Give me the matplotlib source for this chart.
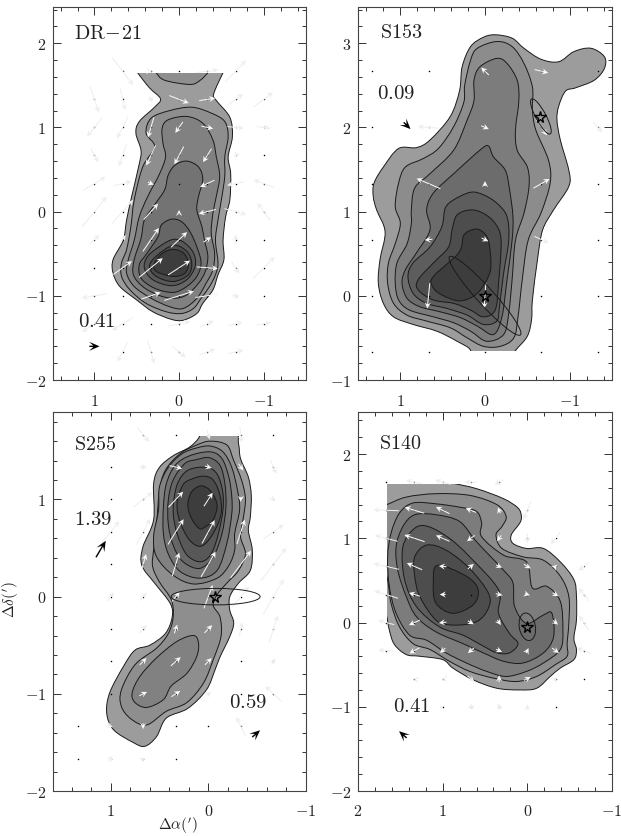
import numpy as np
import matplotlib
matplotlib.use('Agg')
import matplotlib.pyplot as plt
from matplotlib.path import Path
from matplotlib.patches import PathPatch, Ellipse, Rectangle
from matplotlib.ticker import MultipleLocator

plt.rcParams['mathtext.fontset'] = 'cm'
plt.rcParams['font.family'] = 'DejaVu Serif'

# ---------- DR-21 contours, outer to inner
dr21_levels = [
    [(.52,1.72),(.49,1.65),(.35,1.47),(.22,1.34),(.29,1.24),(.47,1.07),(.51,.93),(.45,.73),(.47,.57),(.56,.18),(.62,-.10),(.66,-.34),(.78,-.57),(.78,-.73),(.70,-.89),(.50,-1.05),(.31,-1.19),(.09,-1.28),(-.05,-1.29),(-.21,-1.21),(-.28,-1.09),(-.40,-.93),(-.46,-.75),(-.53,-.57),(-.52,-.34),(-.55,-.06),(-.60,.14),(-.61,.45),(-.58,.65),(-.63,.89),(-.60,1.12),(-.44,1.32),(-.41,1.40),(-.52,1.65),(-.56,1.72)],
    [(.30,1.72),(.27,1.65),(.17,1.56),(-.13,1.51),(-.25,1.56),(-.34,1.65),(-.38,1.72)],
    [(-.15,1.24),(.11,1.20),(.33,1.11),(.39,.93),(.29,.77),(.43,.53),(.53,.14),(.57,-.18),(.62,-.45),(.68,-.61),(.68,-.77),(.58,-.93),(.39,-1.09),(.15,-1.19),(-.03,-1.21),(-.17,-1.15),(-.26,-1.03),(-.36,-.89),(-.43,-.75),(-.46,-.61),(-.43,-.34),(-.46,-.10),(-.50,.14),(-.54,.42),(-.54,.65),(-.58,.89),(-.54,1.07),(-.38,1.17)],
    [(-.09,1.13),(.13,1.09),(.20,.99),(.19,.81),(.16,.65),(.23,.45),(.37,.18),(.47,-.06),(.53,-.34),(.60,-.57),(.62,-.73),(.53,-.89),(.33,-1.03),(.11,-1.13),(-.05,-1.15),(-.21,-1.03),(-.32,-.85),(-.40,-.69),(-.42,-.49),(-.38,-.26),(-.40,-.02),(-.44,.18),(-.48,.42),(-.44,.65),(-.40,.85),(-.28,1.05)],
    [(-.09,.60),(.05,.55),(.13,.43),(.17,.26),(.29,.08),(.41,-.10),(.45,-.32),(.53,-.57),(.54,-.75),(.43,-.89),(.25,-.99),(.07,-1.03),(-.09,-.99),(-.23,-.85),(-.31,-.71),(-.34,-.53),(-.30,-.34),(-.27,-.18),(-.21,.02),(-.23,.18),(-.28,.38),(-.23,.53)],
    [(.09,-.09),(.21,-.16),(.25,-.30),(.39,-.51),(.47,-.63),(.45,-.79),(.29,-.91),(.07,-.96),(-.09,-.89),(-.21,-.77),(-.26,-.61),(-.21,-.42),(-.13,-.24),(-.03,-.12)],
    [(.07,-.33),(.21,-.40),(.37,-.53),(.41,-.67),(.31,-.81),(.09,-.88),(-.09,-.81),(-.19,-.65),(-.17,-.49),(-.05,-.36)],
    [(.07,-.40),(.27,-.53),(.35,-.65),(.27,-.77),(.07,-.83),(-.11,-.75),(-.15,-.61),(-.09,-.47)],
    [(.07,-.45),(.19,-.49),(.29,-.61),(.27,-.71),(.07,-.77),(-.07,-.73),(-.11,-.61),(-.05,-.49)],
]
dr21_shade = [0, 1, 1, 2, 3, 4, 5, 6, 7]

# ---------- S153 contours
s153_levels = [
    [(-.12,3.10),(-.32,3.06),(-.46,2.94),(-.66,2.81),(-.87,2.78),(-1.05,2.90),(-1.25,2.94),(-1.41,2.84),(-1.41,2.70),(-1.29,2.56),(-1.07,2.47),(-.95,2.43),(-.87,2.25),(-.85,2.09),(-.89,1.85),(-.99,1.49),(-.99,1.30),(-.81,1.02),(-.68,.78),(-.62,.43),(-.56,-.05),(-.55,-.28),(-.50,-.48),(-.36,-.65),(-.26,-.80),(.25,-.80),(.17,-.65),(.33,-.54),(.57,-.42),(.85,-.34),(1.08,-.25),(1.20,-.09),(1.26,.15),(1.24,.43),(1.18,.76),(1.28,1.02),(1.32,1.18),(1.31,1.34),(1.20,1.53),(1.02,1.75),(.81,1.76),(.65,1.85),(.41,2.13),(.30,2.44),(.27,2.72),(.17,2.96),(.02,3.07)],
    [(-.14,3.02),(-.32,2.96),(-.46,2.76),(-.56,2.48),(-.56,2.21),(-.60,1.97),(-.75,1.61),(-.77,1.34),(-.66,.98),(-.51,.66),(-.44,.19),(-.39,-.25),(-.34,-.50),(-.18,-.60),(.02,-.60),(.21,-.50),(.41,-.38),(.69,-.30),(.92,-.23),(1.08,-.09),(1.15,.15),(1.14,.39),(1.06,.62),(1.00,.86),(1.06,1.06),(1.02,1.34),(.94,1.53),(.73,1.63),(.55,1.75),(.37,2.01),(.25,2.30),(.24,2.50),(.17,2.80),(.09,2.94)],
    [(-.14,2.82),(-.26,2.76),(-.38,2.56),(-.40,2.32),(-.36,1.97),(-.38,1.73),(-.50,1.53),(-.52,1.30),(-.46,.98),(-.36,.66),(-.32,.19),(-.28,-.21),(-.22,-.46),(-.02,-.54),(.17,-.42),(.37,-.32),(.61,-.25),(.89,-.17),(1.02,-.05),(1.06,.15),(1.04,.39),(.92,.62),(.87,.86),(.87,1.02),(.83,1.28),(.65,1.45),(.37,1.73),(.21,2.09),(.13,2.32),(.13,2.56),(.06,2.72)],
    [(-.04,1.78),(-.10,1.65),(-.24,1.49),(-.29,1.26),(-.33,.94),(-.32,.66),(-.26,.19),(-.20,-.25),(-.10,-.46),(.09,-.36),(.29,-.26),(.53,-.19),(.77,-.13),(.92,-.03),(.98,.15),(.94,.31),(.81,.51),(.65,.78),(.69,1.02),(.61,1.22),(.37,1.45),(.06,1.73)],
    [(.17,1.23),(.37,1.14),(.47,1.04),(.51,.82),(.65,.58),(.85,.39),(.91,.23),(.85,.03),(.69,-.09),(.45,-.15),(.21,-.23),(.02,-.34),(-.14,-.30),(-.17,-.13),(-.22,.27),(-.28,.66),(-.26,.94),(-.14,1.10),(.02,1.20)],
    [(.17,1.02),(.33,.96),(.39,.78),(.43,.58),(.61,.39),(.79,.19),(.79,.07),(.61,-.05),(.37,-.09),(.17,-.17),(.02,-.25),(-.12,-.17),(-.16,.15),(-.19,.66),(-.12,.86),(.02,.98)],
    [(.13,.79),(.25,.72),(.31,.51),(.61,.23),(.62,.11),(.51,.01),(.29,-.06),(.09,.03),(-.04,.23),(-.07,.39),(-.04,.66),(.04,.77)],
]
s153_shade = [0, 1, 2, 3, 4, 5, 6]

# ---------- S255 contours
s255_levels = [
    [(-.26,1.74),(-.31,1.57),(-.33,1.42),(-.41,1.23),(-.44,1.04),(-.43,.82),(-.41,.68),(-.45,.48),(-.43,.27),(-.31,.14),(-.22,0),(-.22,-.14),(-.26,-.27),(-.22,-.41),(-.12,-.62),(-.07,-.75),(.02,-.96),(.21,-1.15),(.43,-1.25),(.53,-1.44),(.65,-1.54),(.77,-1.50),(.97,-1.37),(1.04,-1.20),(1.01,-.99),(.87,-.72),(.75,-.55),(.60,-.50),(.44,-.38),(.37,-.21),(.39,-.07),(.55,.14),(.68,.32),(.67,.51),(.56,.79),(.56,1.16),(.50,1.33),(.36,1.45),(.19,1.54),(.09,1.65),(.12,1.74)],
    [(-.02,1.60),(-.19,1.56),(-.26,1.40),(-.34,1.20),(-.38,1.01),(-.36,.82),(-.33,.62),(-.38,.44),(-.31,.27),(-.19,.14),(-.09,.02),(-.05,-.09),(-.12,-.21),(-.13,-.41),(-.05,-.65),(.05,-.89),(.22,-1.09),(.43,-1.18),(.63,-1.32),(.79,-1.26),(.89,-1.13),(.89,-.96),(.75,-.70),(.53,-.53),(.41,-.38),(.36,-.21),(.38,-.03),(.50,.15),(.57,.31),(.56,.48),(.53,.75),(.50,1.09),(.44,1.30),(.29,1.47),(.12,1.56)],
    [(.15,-.40),(.10,-.48),(.12,-.62),(.22,-.79),(.38,-.92),(.46,-1.06),(.63,-1.14),(.75,-1.09),(.78,-.99),(.70,-.82),(.53,-.63),(.32,-.46)],
    [(-.02,1.55),(-.15,1.49),(-.24,1.33),(-.30,1.09),(-.32,.89),(-.27,.65),(-.27,.48),(-.21,.32),(-.09,.19),(.15,.13),(.36,.22),(.53,.41),(.56,.62),(.51,.89),(.50,1.13),(.41,1.33),(.27,1.47),(.12,1.53)],
    [(-.02,1.49),(-.14,1.42),(-.21,1.23),(-.24,1.03),(-.24,.85),(-.19,.55),(-.09,.27),(.09,.19),(.29,.26),(.41,.44),(.46,.65),(.46,.92),(.43,1.16),(.34,1.35),(.19,1.45)],
    [(-.01,1.43),(-.12,1.35),(-.17,1.16),(-.18,.92),(-.14,.65),(-.05,.41),(.09,.29),(.26,.36),(.36,.53),(.41,.75),(.41,.99),(.36,1.20),(.24,1.37),(.12,1.41)],
    [(.02,1.33),(-.09,1.26),(-.15,1.06),(-.14,.82),(-.05,.48),(.07,.36),(.22,.43),(.32,.65),(.36,.89),(.32,1.15),(.21,1.30)],
    [(.05,1.24),(-.05,1.20),(-.12,1.04),(-.13,.85),(-.05,.65),(.07,.52),(.19,.58),(.29,.77),(.32,.96),(.26,1.15),(.17,1.21)],
    [(.07,1.14),(-.03,1.08),(-.09,.94),(-.05,.79),(.03,.72),(.09,.70),(.17,.80),(.21,.94),(.17,1.08)],
]
s255_shade = [0, 1, 2, 2, 3, 4, 5, 6, 7]

# ---------- S140 contours
s140_levels = [
    [(1.79,1.77),(1.27,1.77),(.94,1.67),(.60,1.59),(.28,1.47),(.11,1.36),(.07,1.26),(.09,1.18),(.19,1.04),(.17,.94),(.01,.88),(-.19,.88),(-.39,.72),(-.55,.51),(-.58,.31),(-.58,.03),(-.55,-.19),(-.58,-.32),(-.55,-.44),(-.39,-.54),(-.27,-.64),(-.11,-.78),(.09,-.80),(.36,-.78),(.64,-.68),(.88,-.54),(1.00,-.44),(1.27,-.40),(1.43,-.38),(1.57,-.26),(1.63,-.09),(1.67,.11),(1.79,.51)],
    [(1.79,1.36),(1.66,1.40),(1.43,1.49),(1.08,1.53),(.68,1.51),(.36,1.40),(.25,1.26),(.30,1.14),(.37,1.04),(.30,.88),(.05,.78),(-.19,.74),(-.39,.55),(-.49,.31),(-.49,-.01),(-.47,-.25),(-.47,-.40),(-.33,-.50),(-.11,-.64),(.13,-.70),(.40,-.66),(.68,-.58),(.92,-.46),(1.15,-.32),(1.35,-.25),(1.51,-.05),(1.61,.23),(1.66,.55),(1.79,.90)],
    [(1.35,1.42),(1.08,1.41),(.80,1.37),(.60,1.32),(.54,1.18),(.54,1.02),(.28,.80),(.01,.72),(-.06,.41),(-.23,.43),(-.39,.25),(-.42,-.09),(-.39,-.32),(-.19,-.48),(.01,-.58),(.25,-.64),(.48,-.58),(.72,-.48),(.96,-.36),(1.19,-.21),(1.39,-.15),(1.55,.11),(1.63,.43),(1.65,.78),(1.61,1.06),(1.51,1.30)],
    [(1.33,1.28),(1.08,1.28),(.80,1.20),(.60,.96),(.28,.62),(.17,.47),(.15,.19),(.01,-.01),(-.19,.09),(-.29,.11),(-.31,-.17),(-.19,-.36),(.05,-.48),(.28,-.46),(.52,-.36),(.76,-.25),(1.08,-.11),(1.31,.07),(1.43,.31),(1.53,.62),(1.55,.90),(1.47,1.14)],
    [(1.33,1.12),(1.17,1.14),(.92,1.00),(.68,.78),(.34,.39),(.34,.11),(.21,-.13),(.11,-.25),(.21,-.36),(.36,-.36),(.52,-.28),(.76,-.15),(1.04,-.05),(1.31,.19),(1.45,.51),(1.47,.90)],
    [(1.33,.78),(1.19,.92),(.96,.86),(.68,.64),(.46,.35),(.46,.17),(.60,.01),(.88,-.03),(1.08,.03),(1.27,.31),(1.33,.55)],
    [(1.06,.68),(.72,.55),(.58,.39),(.64,.21),(.88,.11),(1.08,.23),(1.11,.47)],
]
s140_shade = [0, 1, 2, 3, 4, 5, 6]

# ---------- polarization vectors, row by row (0, 0 = only the grid dot)
dr21_x = [.667,.333,0,-.333,-.667,
          1,.667,.333,0,-.333,-.667,-1,
          1,.667,.333,0,-.333,-.667,-1,
          1,.667,.333,0,-.333,-.667,-1,
          1,.667,.333,0,-.333,-.667,-1,
          1,.667,.333,0,-.333,-.667,-1,
          1,.667,.333,0,-.333,-.667,-1,
          1,.667,.333,0,-.333,-.667,-1,
          1,.667,.333,0,-.333,-.667,-1,
          1,.667,.333,0,-.333,-.667,-1,
          .667,.333,0,-.333,-.667]
dr21_y = [1.667]*5 + [1.333]*7 + [1]*7 + [.667]*7 + [.333]*7 + [0]*7 + [-.333]*7 + [-.667]*7 + [-1]*7 + [-1.333]*7 + [-1.667]*5
dr21_u = [-.25,-.03,0,-.26,-.25,
          -.10,-.06,-.03,-.23,-.19,-.18,-.22,
          .18,.13,.07,.09,-.14,-.19,-.16,
          -.09,.09,.11,.11,.10,.03,0,
          -.26,-.21,-.07,0,.17,.20,.24,
          -.29,-.25,-.17,0,.20,-.26,.15,
          -.12,-.07,-.19,-.19,-.09,-.02,0,
          0,-.22,-.28,-.26,-.25,-.09,-.26,
          .30,0,-.23,-.35,-.28,-.09,0,
          .30,.25,0,-.26,-.16,-.17,-.17,
          .12,-.08,-.16,-.19,-.19]
dr21_v = [-.33,0,0,.03,.26,
          -.31,-.26,-.08,-.09,.03,.13,.17,
          -.22,-.26,-.24,-.13,-.03,-.02,-.02,
          -.17,-.26,-.24,-.21,-.16,-.04,0,
          .16,.05,-.03,0,-.08,-.04,.09,
          .36,.28,.19,.04,-.05,-.07,.20,
          .11,.11,.28,.18,.06,.12,0,
          0,.16,.23,.17,-.02,-.14,.26,
          -.05,0,.08,.11,.04,0,0,
          -.19,-.15,0,.06,.07,.04,.03,
          -.23,-.28,-.13,.07,.04]

s153_x = [1.333,.667,0,-.667,-1.333]*5 + [1.333,.667,0,-.667,-1.333]
s153_y = [2.667]*5 + [2]*5 + [1.333]*5 + [.667]*5 + [0]*5 + [-.667]*5
s153_u = [0,0,.09,-.16,0,
          0,.25,-.09,-.13,-.11,
          0,.28,0,-.19,0,
          0,.09,-.08,-.17,0,
          0,.03,.02,0,0,
          0,0,0,0,0]
s153_v = [0,0,.09,-.04,0,
          0,.02,-.04,-.19,-.12,
          0,.12,.06,.11,0,
          0,-.01,-.04,-.08,0,
          0,-.30,-.30,0,0,
          0,0,0,0,0]

s255_x = [.667,.333,0,-.333,-.667,
          1,.667,.333,0,-.333,-.667,
          1,.667,.333,0,-.333,-.667,
          1,.667,.333,0,-.333,-.667,
          1,.667,.333,0,-.333,-.667,
          1,.667,.333,0,-.333,-.667,
          1,.667,.333,0,-.333,-.667,
          1,.667,.333,0,-.333,-.667,
          1,.667,.333,0,-.333,-.667,
          1.333,1,.667,.333,0,-.333,
          1.333,1,.667,.333]
s255_y = [1.667]*5 + [1.333]*6 + [1]*6 + [.667]*6 + [.333]*6 + [0]*6 + [-.333]*6 + [-.667]*6 + [-1]*6 + [-1.333]*6 + [-1.667]*4
s255_u = [-.12,0,-.03,-.02,0,
          0,-.08,-.13,-.07,-.05,-.06,
          0,-.19,-.15,-.09,0,-.03,
          -.18,-.14,-.16,-.13,-.08,-.21,
          0,-.06,-.07,-.15,-.21,-.26,
          -.07,-.07,-.08,-.09,-.17,-.21,
          0,-.08,-.03,-.08,-.03,-.09,
          0,-.07,-.10,-.07,0,-.04,
          0,-.08,-.09,-.06,0,.17,
          0,-.05,0,0,0,.09,
          0,-.04,-.04,0]
s255_v = [-.15,0,-.10,-.16,0,
          0,-.01,-.03,-.02,-.07,-.14,
          0,.15,.16,.14,-.05,-.03,
          .22,.27,.26,.24,.25,.15,
          0,.21,.24,.26,.28,.34,
          .09,.08,.10,.24,.21,.36,
          0,.08,.09,.08,.14,.28,
          0,.07,.09,.07,0,.07,
          0,.04,.06,.04,0,.16,
          0,-.02,-.06,0,0,.19,
          0,.06,.03,0]

s140_x = [1.667,1.333,1,.667,.333,
          1.667,1.333,1,.667,.333,0,
          1.667,1.333,1,.667,.333,0,-.333,
          1.667,1.333,1,.667,.333,0,-.333,-.667,
          1.667,1.333,1,.667,.333,0,-.333,-.667,
          1.667,1.333,1,.667,.333,0,-.333,-.667,
          1.667,1.333,1,.667,.333,0,-.333,-.667,
          1.333,1,.667,.333,0,-.333,-.667,
          1,.667,.333,0,-.333]
s140_y = [1.667]*5 + [1.333]*6 + [1]*7 + [.667]*8 + [.333]*8 + [0]*8 + [-.333]*8 + [-.667]*7 + [-1]*5
s140_u = [0,.20,.18,.14,.11,
          .30,.23,.16,.12,.03,.09,
          .27,.24,.16,.09,.05,0,.11,
          .30,.18,.09,-.07,-.07,-.08,-.04,.13,
          .28,.13,.07,0,-.08,-.06,-.07,.12,
          .19,.13,.09,-.07,-.04,0,-.06,.11,
          .19,.12,.06,.07,-.07,-.03,-.08,.17,
          .03,.03,-.08,0,-.08,-.05,0,
          -.02,.08,.03,0,0]
s140_v = [0,.04,.05,0,-.06,
          .01,.07,.08,.05,.07,-.22,
          .07,.08,.07,-.07,-.07,-.12,-.14,
          .07,.08,.01,.06,-.03,-.05,.04,-.10,
          .09,.04,0,0,-.02,-.02,-.04,.15,
          .05,-.06,-.01,-.04,-.06,0,-.05,.17,
          .01,-.07,-.06,-.06,-.03,.06,-.06,.06,
          .01,0,-.07,.08,.04,.04,0,
          0,-.03,.08,.06,0]

# ---------- key arrows: x, y, u, v
dr21_key = (1.0, -1.60, -.12, 0)
s153_key = (.92, 2.02, -.08, -.08)
s255_key = (1.10, .49, -.10, .17)
s255_key2 = (-.49, -1.41, -.08, .07)
s140_key = (1.47, -1.33, .09, .08)


def smooth_path(pts):
    # closed catmull-rom written as bezier segments
    p = np.array(pts, dtype=float)
    n = len(p)
    verts = [p[0]]
    codes = [Path.MOVETO]
    for i in range(n):
        p0, p1, p2, p3 = p[i-1], p[i], p[(i+1) % n], p[(i+2) % n]
        verts += [p1 + (p2-p0)/6.0, p2 - (p3-p1)/6.0, p2]
        codes += [Path.CURVE4]*3
    return Path(np.array(verts), codes)


def panel(box, xlim, ylim, yt, xt, levels, shade, nshade, clip, x, y, u, v, keys, label, lab_pos):
    left, right, top, bottom = box
    ax = fig.add_axes([left/621.0, 1-bottom/836.0, (right-left)/621.0, (bottom-top)/836.0])
    ax.set_xlim(*xlim)
    ax.set_ylim(*ylim)
    greys = np.linspace(0.61, 0.24, nshade)
    rect = None
    if clip is not None:
        rect = Rectangle((clip[0], clip[2]), clip[1]-clip[0], clip[3]-clip[2], transform=ax.transData)
    for lev, s in zip(levels, shade):
        p = PathPatch(smooth_path(lev), facecolor=str(greys[s]), edgecolor='#1a1a1a', lw=0.7, zorder=2)
        ax.add_patch(p)
        if rect is not None:
            p.set_clip_path(rect)
    x = np.array(x); y = np.array(y); u = np.array(u, dtype=float); v = np.array(v, dtype=float)
    ax.scatter(x, y, s=1.2, c='k', linewidths=0, zorder=3)
    inside = Path(levels[0]).contains_points(np.c_[x, y])
    if clip is not None:
        inside &= (x <= clip[1]) & (y <= clip[3]) & (y >= clip[2])
    cols = np.where(inside, '#f8f8f8', '#eeeeee')
    m = (u != 0) | (v != 0)
    ax.quiver(x[m], y[m], u[m], v[m], color=list(cols[m]), angles='xy', scale_units='xy', scale=1,
              pivot='mid', width=0.004, headwidth=6, headlength=6, headaxislength=4.2,
              minshaft=0.4, minlength=0.2, zorder=4)
    for k in keys:
        ax.quiver(k[0], k[1], k[2], k[3], color='k', angles='xy', scale_units='xy', scale=1,
                  pivot='mid', width=0.0055, headwidth=6.5, headlength=7.5, headaxislength=4.5,
                  minshaft=0.3, zorder=5)
    ax.set_xticks(xt)
    ax.set_yticks(yt)
    ax.set_xticklabels(['$%d$' % t for t in xt])
    ax.set_yticklabels(['$%d$' % t for t in yt])
    ax.xaxis.set_minor_locator(MultipleLocator(0.2))
    ax.yaxis.set_minor_locator(MultipleLocator(0.2))
    ax.tick_params(axis='both', which='major', direction='in', top=True, right=True, length=5.5, width=0.7,
                   color='#333333', labelsize=11.5, labelcolor='#222222')
    ax.tick_params(axis='both', which='minor', direction='in', top=True, right=True, length=3, width=0.7,
                   color='#333333')
    ax.tick_params(axis='x', which='major', pad=9)
    ax.tick_params(axis='y', which='major', pad=5)
    for sp in ax.spines.values():
        sp.set_linewidth(0.8)
        sp.set_color('#444444')
        sp.set_zorder(10)
    ax.text(lab_pos[0], lab_pos[1], label, fontsize=14.5, va='center', ha='left', color='#222222', zorder=6)
    return ax


fig = plt.figure(figsize=(6.21, 8.36), dpi=100)

ax1 = panel((53, 306, 7, 380), (1.49, -1.5), (-2, 2.43), [-2, -1, 0, 1, 2], [1, 0, -1],
            dr21_levels, dr21_shade, 8, (-3, 3, -3, 1.65), dr21_x, dr21_y, dr21_u, dr21_v,
            [dr21_key], r'$\mathrm{DR\!-\!21}$', (1.24, 2.11))
ax1.text(1.19, -1.30, r'$0.41$', fontsize=15, va='center', color='#222222', zorder=6)

ax2 = panel((358, 612, 7, 380), (1.5, -1.5), (-1, 3.43), [-1, 0, 1, 2, 3], [1, 0, -1],
            s153_levels, s153_shade, 7, (-3, 3, -.65, 4), s153_x, s153_y, s153_u, s153_v,
            [s153_key], r'$\mathrm{S153}$', (1.24, 3.13))
ax2.text(1.28, 2.40, r'$0.09$', fontsize=15, va='center', color='#222222', zorder=6)
ax2.add_patch(Ellipse((0, 0), 1.25, 0.2, angle=48, fill=False, ec='#1a1a1a', lw=0.7, zorder=5))
ax2.add_patch(Ellipse((-.66, 2.13), 0.47, 0.12, angle=62, fill=False, ec='#1a1a1a', lw=0.7, zorder=5))
ax2.plot([0, -.65], [0, 2.12], ls='none', marker='*', ms=8.5, mfc='none', mec='k', mew=1.0, zorder=6)

ax3 = panel((53, 306, 412, 791), (1.59, -1.0), (-2, 1.9), [-2, -1, 0, 1], [1, 0, -1],
            s255_levels, s255_shade, 8, (-3, 3, -3, 1.65), s255_x, s255_y, s255_u, s255_v,
            [s255_key, s255_key2], r'$\mathrm{S255}$', (1.38, 1.57))
ax3.text(1.38, .79, r'$1.39$', fontsize=15, va='center', color='#222222', zorder=6)
ax3.text(-.215, -1.09, r'$0.59$', fontsize=15, va='center', color='#222222', zorder=6)
ax3.add_patch(Ellipse((-.075, 0), 0.91, 0.17, fill=False, ec='#1a1a1a', lw=0.7, zorder=5))
ax3.plot([-.07], [0], ls='none', marker='*', ms=8.5, mfc='none', mec='k', mew=1.0, zorder=6)
ax3.set_xlabel(r"$\Delta\alpha(')$", fontsize=11, color='#222222')
ax3.set_ylabel(r"$\Delta\delta(')$", fontsize=11, color='#222222')
ax3.xaxis.set_label_coords(0.494, -0.066)
ax3.yaxis.set_label_coords(-0.125, 0.504)

ax4 = panel((358, 612, 412, 791), (2, -1), (-2, 2.5), [-2, -1, 0, 1, 2], [2, 1, 0, -1],
            s140_levels, s140_shade, 7, (-3, 1.656, -3, 1.65), s140_x, s140_y, s140_u, s140_v,
            [s140_key], r'$\mathrm{S140}$', (1.75, 2.13))
ax4.text(1.59, -1.0, r'$0.41$', fontsize=15, va='center', color='#222222', zorder=6)
ax4.add_patch(Ellipse((0, -.05), 0.33, 0.19, angle=80, fill=False, ec='#1a1a1a', lw=0.7, zorder=5))
ax4.plot([0], [-.05], ls='none', marker='*', ms=8.5, mfc='none', mec='k', mew=1.0, zorder=6)

plt.savefig('out.png', dpi=100)
